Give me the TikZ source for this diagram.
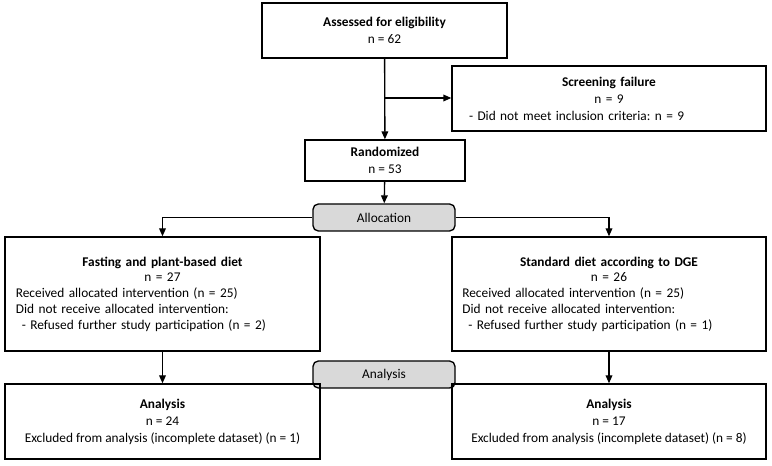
\documentclass[tikz,border=0pt]{standalone}
\usepackage{fontspec}
\setmainfont{Carlito}
\usetikzlibrary{arrows.meta}
\frenchspacing

\tikzset{every picture/.style={line width=0.75pt}}
\tikzset{
  box/.style={draw, line width=1pt, inner sep=0pt, font=\fontsize{10}{12.8}\selectfont},
  listbox/.style={box, font=\fontsize{10}{11.8}\selectfont},
  phase/.style={draw, line width=1pt, rounded corners=4pt, inner sep=0pt,
    fill={rgb, 255:red, 217; green, 217; blue, 217}, minimum width=106.5pt, minimum height=20.25pt,
    font=\fontsize{10}{12}\selectfont},
  arr/.style={-{Triangle[length=6pt,width=5pt]}, line width=1pt},
}

\begin{document}
\begin{tikzpicture}[x=0.75pt,y=0.75pt,yscale=-1,xscale=1]
	\useasboundingbox (0,0) rectangle (772,466);

	% Boxes
	\node[box, minimum width=183.75pt, minimum height=41.25pt, align=center] (assess) at (384.5,30.5)
		{\textbf{Assessed for eligibility}\\ n = 62};
	\node[box, minimum width=235.5pt, minimum height=48.75pt, text width=210pt, align=left] (screen) at (609,98.5)
		{{\centering\textbf{Screening failure}\\ n = 9\par}- Did not meet inclusion criteria: n = 9};
	\node[box, minimum width=120pt, minimum height=30.75pt, align=center] (rand) at (385,160.5)
		{\textbf{Randomized}\\ n = 53};
	\node[phase] (alloc) at (384,217.5) {Allocation};
	\node[listbox, minimum width=236.25pt, minimum height=85.5pt, text width=220pt, align=left] (fast) at (162.5,294)
		{{\centering\textbf{Fasting and plant-based diet}\\ n = 27\par}
		Received allocated intervention (n = 25)\\
		Did not receive allocated intervention:\\
		\hspace*{4.5pt}- Refused further study participation (n = 2)};
	\node[listbox, minimum width=235.5pt, minimum height=85.5pt, text width=220pt, align=left] (std) at (609,294)
		{{\centering\textbf{Standard diet according to DGE}\\ n = 26\par}
		Received allocated intervention (n = 25)\\
		Did not receive allocated intervention:\\
		\hspace*{4.5pt}- Refused further study participation (n = 1)};
	\node[phase] (ana) at (384,374.5) {Analysis};
	\node[box, minimum width=236.25pt, minimum height=56.25pt, align=center] (fastana) at (162.5,421.5)
		{\textbf{Analysis}\\ n = 24\\ Excluded from analysis (incomplete dataset) (n = 1)};
	\node[box, minimum width=235.5pt, minimum height=56.25pt, align=center] (stdana) at (609,421.5)
		{\textbf{Analysis}\\ n = 17\\ Excluded from analysis (incomplete dataset) (n = 8)};

	% Arrows
	\coordinate (split) at (385,98);
	\draw[arr] (assess) -- (rand);
	\draw[arr] (split) -- (split -| screen.west);
	\draw[arr] (rand) -- (alloc);
	\draw[arr] (alloc.west) -| (fast);
	\draw[arr] (alloc.east) -| (std);
	\draw[arr] (fast) -- (fastana);
	\draw[arr] (std) -- (stdana);

\end{tikzpicture}
\end{document}
